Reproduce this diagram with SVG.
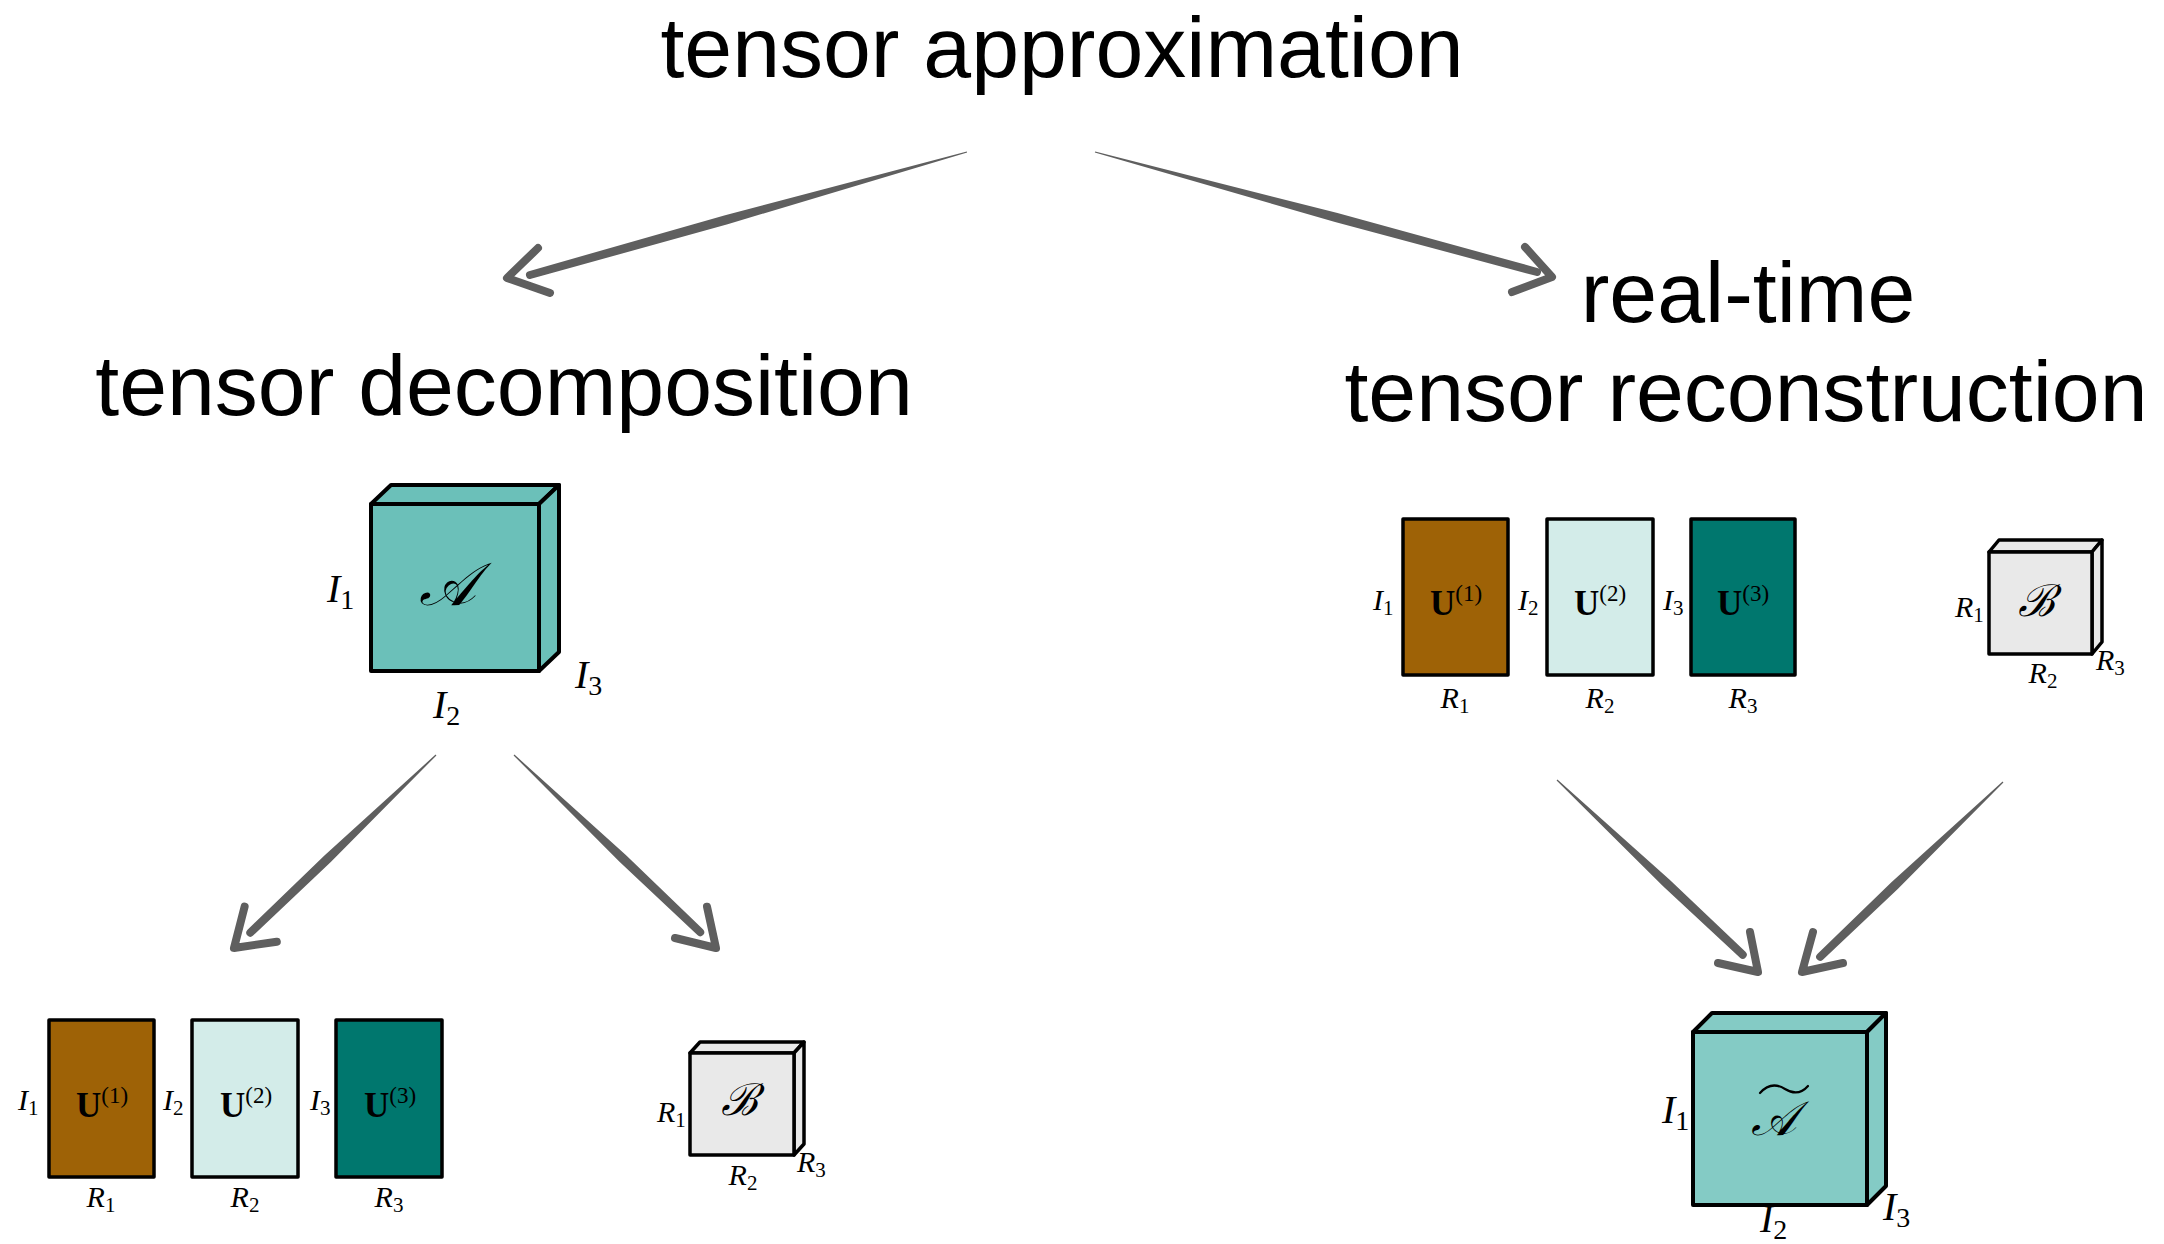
<svg xmlns="http://www.w3.org/2000/svg" width="2164" height="1244" viewBox="0 0 2164 1244">
<style>
.title{font-family:"Liberation Sans",Arial,sans-serif;font-size:86px;fill:#000}
.mi{font-family:"Liberation Serif","Times New Roman",serif;font-style:italic;fill:#000}
.big{font-size:40px}
.sm{font-size:30px}
.sb{font-style:normal}
.big .sb{font-size:28px}
.sm .sb{font-size:21px}
.ub{font-family:"Liberation Serif","Times New Roman",serif;font-weight:bold;font-size:35px;fill:#000}
.ub .sp{font-weight:normal;font-size:23px}
.scr{font-family:"DejaVu Serif","Liberation Serif",serif;font-style:italic;fill:#000}
.edge{stroke:#000;stroke-width:4;stroke-linejoin:round}
.edge2{stroke:#000;stroke-width:3.5;stroke-linejoin:round}
.shaft{fill:#5f5f5f}
.head{fill:none;stroke:#5f5f5f;stroke-width:8;stroke-linecap:round;stroke-linejoin:round}
</style>
<rect width="2164" height="1244" fill="#fff"/>

<g id="title-approx"><text class="title" x="1062" y="77" text-anchor="middle">tensor approximation</text></g>
<g id="title-decomp"><text class="title" x="504" y="415" text-anchor="middle">tensor decomposition</text></g>
<g id="title-recon">
<text class="title" x="1748" y="322" text-anchor="middle">real-time</text>
<text class="title" x="1746" y="421" text-anchor="middle">tensor reconstruction</text>
</g>

<g id="connectors">
<path class="shaft" transform="translate(967,152) rotate(164.28)" d="M0,-0.6 L250,-4.6 L454,-4 A4,4 0 0 1 454,4 L250,4.6 L0,0.6Z"/>
<polyline class="head" points="538,248 507,278 550,293"/>
<path class="shaft" transform="translate(1095,152) rotate(15.19)" d="M0,-0.6 L250,-4.6 L458,-4 A4,4 0 0 1 458,4 L250,4.6 L0,0.6Z"/>
<polyline class="head" points="1525,247 1552,277 1512,292"/>
<path class="shaft" transform="translate(436,755) rotate(136.26)" d="M0,-0.6 L150,-4.6 L257,-4 A4,4 0 0 1 257,4 L150,4.6 L0,0.6Z"/>
<polyline class="head" points="244.6,906.7 234,948 276.8,941.7"/>
<path class="shaft" transform="translate(514,755) rotate(43.58)" d="M0,-0.6 L150,-4.6 L257,-4 A4,4 0 0 1 257,4 L150,4.6 L0,0.6Z"/>
<polyline class="head" points="707,906.7 716,948 675,938"/>
<path class="shaft" transform="translate(1557,780) rotate(43.25)" d="M0,-0.6 L150,-4.6 L255,-4 A4,4 0 0 1 255,4 L150,4.6 L0,0.6Z"/>
<polyline class="head" points="1750,932 1758,972 1718,963"/>
<path class="shaft" transform="translate(2003,782) rotate(136.28)" d="M0,-0.6 L150,-4.6 L253,-4 A4,4 0 0 1 253,4 L150,4.6 L0,0.6Z"/>
<polyline class="head" points="1813,932 1802,972 1843,963"/>
</g>

<g id="tensor-A">
<g class="edge" fill="#6BC0B9">
<polygon points="371,504 391,485 559,485 539,504"/>
<polygon points="539,504 559,485 559,652 539,671"/>
<rect x="371" y="504" width="168" height="167"/>
</g>
<text class="scr" x="447" y="605" font-size="60" text-anchor="middle">𝒜</text>
<text class="mi big" x="327" y="602">I<tspan class="sb" dy="7">1</tspan></text>
<text class="mi big" x="433" y="718">I<tspan class="sb" dy="7">2</tspan></text>
<text class="mi big" x="575" y="688">I<tspan class="sb" dy="7">3</tspan></text>
</g>

<g id="factors-left">
<rect class="edge2" x="49" y="1020" width="105" height="157" fill="#9E6206"/>
<rect class="edge2" x="192" y="1020" width="106" height="157" fill="#D3ECE9"/>
<rect class="edge2" x="336" y="1020" width="106" height="157" fill="#00776E"/>
<text class="ub" x="102" y="1117" text-anchor="middle">U<tspan class="sp" dy="-14">(1)</tspan></text>
<text class="ub" x="246" y="1117" text-anchor="middle">U<tspan class="sp" dy="-14">(2)</tspan></text>
<text class="ub" x="390" y="1117" text-anchor="middle">U<tspan class="sp" dy="-14">(3)</tspan></text>
<text class="mi sm" x="18" y="1110">I<tspan class="sb" dy="5">1</tspan></text>
<text class="mi sm" x="163" y="1110">I<tspan class="sb" dy="5">2</tspan></text>
<text class="mi sm" x="310" y="1110">I<tspan class="sb" dy="5">3</tspan></text>
<text class="mi sm" x="101" y="1207" text-anchor="middle">R<tspan class="sb" dy="5">1</tspan></text>
<text class="mi sm" x="245" y="1207" text-anchor="middle">R<tspan class="sb" dy="5">2</tspan></text>
<text class="mi sm" x="389" y="1207" text-anchor="middle">R<tspan class="sb" dy="5">3</tspan></text>
</g>

<g id="core-left">
<g class="edge2" fill="#E9E9E9">
<polygon points="690,1053 700,1042 804,1042 794,1053"/>
<polygon points="794,1053 804,1042 804,1144 794,1155"/>
<rect x="690" y="1053" width="104" height="102"/>
</g>
<text class="scr" x="739" y="1115" font-size="44" text-anchor="middle">ℬ</text>
<text class="mi sm" x="657" y="1122">R<tspan class="sb" dy="5">1</tspan></text>
<text class="mi sm" x="743" y="1185" text-anchor="middle">R<tspan class="sb" dy="5">2</tspan></text>
<text class="mi sm" x="797" y="1172">R<tspan class="sb" dy="5">3</tspan></text>
</g>

<g id="factors-right">
<rect class="edge2" x="1403" y="519" width="105" height="156" fill="#9E6206"/>
<rect class="edge2" x="1547" y="519" width="106" height="156" fill="#D3ECE9"/>
<rect class="edge2" x="1691" y="519" width="104" height="156" fill="#00776E"/>
<text class="ub" x="1456" y="615" text-anchor="middle">U<tspan class="sp" dy="-14">(1)</tspan></text>
<text class="ub" x="1600" y="615" text-anchor="middle">U<tspan class="sp" dy="-14">(2)</tspan></text>
<text class="ub" x="1743" y="615" text-anchor="middle">U<tspan class="sp" dy="-14">(3)</tspan></text>
<text class="mi sm" x="1373" y="610">I<tspan class="sb" dy="5">1</tspan></text>
<text class="mi sm" x="1518" y="610">I<tspan class="sb" dy="5">2</tspan></text>
<text class="mi sm" x="1663" y="610">I<tspan class="sb" dy="5">3</tspan></text>
<text class="mi sm" x="1455" y="708" text-anchor="middle">R<tspan class="sb" dy="5">1</tspan></text>
<text class="mi sm" x="1600" y="708" text-anchor="middle">R<tspan class="sb" dy="5">2</tspan></text>
<text class="mi sm" x="1743" y="708" text-anchor="middle">R<tspan class="sb" dy="5">3</tspan></text>
</g>

<g id="core-right">
<g class="edge2" fill="#E9E9E9">
<polygon points="1989,552 1999,540 2102,540 2092,552"/>
<polygon points="2092,552 2102,540 2102,642 2092,654"/>
<rect x="1989" y="552" width="103" height="102"/>
</g>
<text class="scr" x="2036" y="616" font-size="44" text-anchor="middle">ℬ</text>
<text class="mi sm" x="1955" y="617">R<tspan class="sb" dy="5">1</tspan></text>
<text class="mi sm" x="2043" y="683" text-anchor="middle">R<tspan class="sb" dy="5">2</tspan></text>
<text class="mi sm" x="2096" y="670">R<tspan class="sb" dy="5">3</tspan></text>
</g>

<g id="tensor-A-tilde">
<g class="edge" fill="#84CBC5">
<polygon points="1693,1032 1712,1013 1886,1013 1867,1032"/>
<polygon points="1867,1032 1886,1013 1886,1186 1867,1205"/>
<rect x="1693" y="1032" width="174" height="173"/>
</g>
<text class="scr" x="1773" y="1135" font-size="48" text-anchor="middle">𝒜</text>
<path d="M1760,1093 C1768,1084 1777,1084 1785,1089 C1793,1094 1801,1094 1808,1086" fill="none" stroke="#000" stroke-width="2.2" stroke-linecap="round"/>
<text class="mi big" x="1662" y="1123">I<tspan class="sb" dy="7">1</tspan></text>
<text class="mi big" x="1760" y="1232">I<tspan class="sb" dy="7">2</tspan></text>
<text class="mi big" x="1883" y="1220">I<tspan class="sb" dy="7">3</tspan></text>
</g>
</svg>
